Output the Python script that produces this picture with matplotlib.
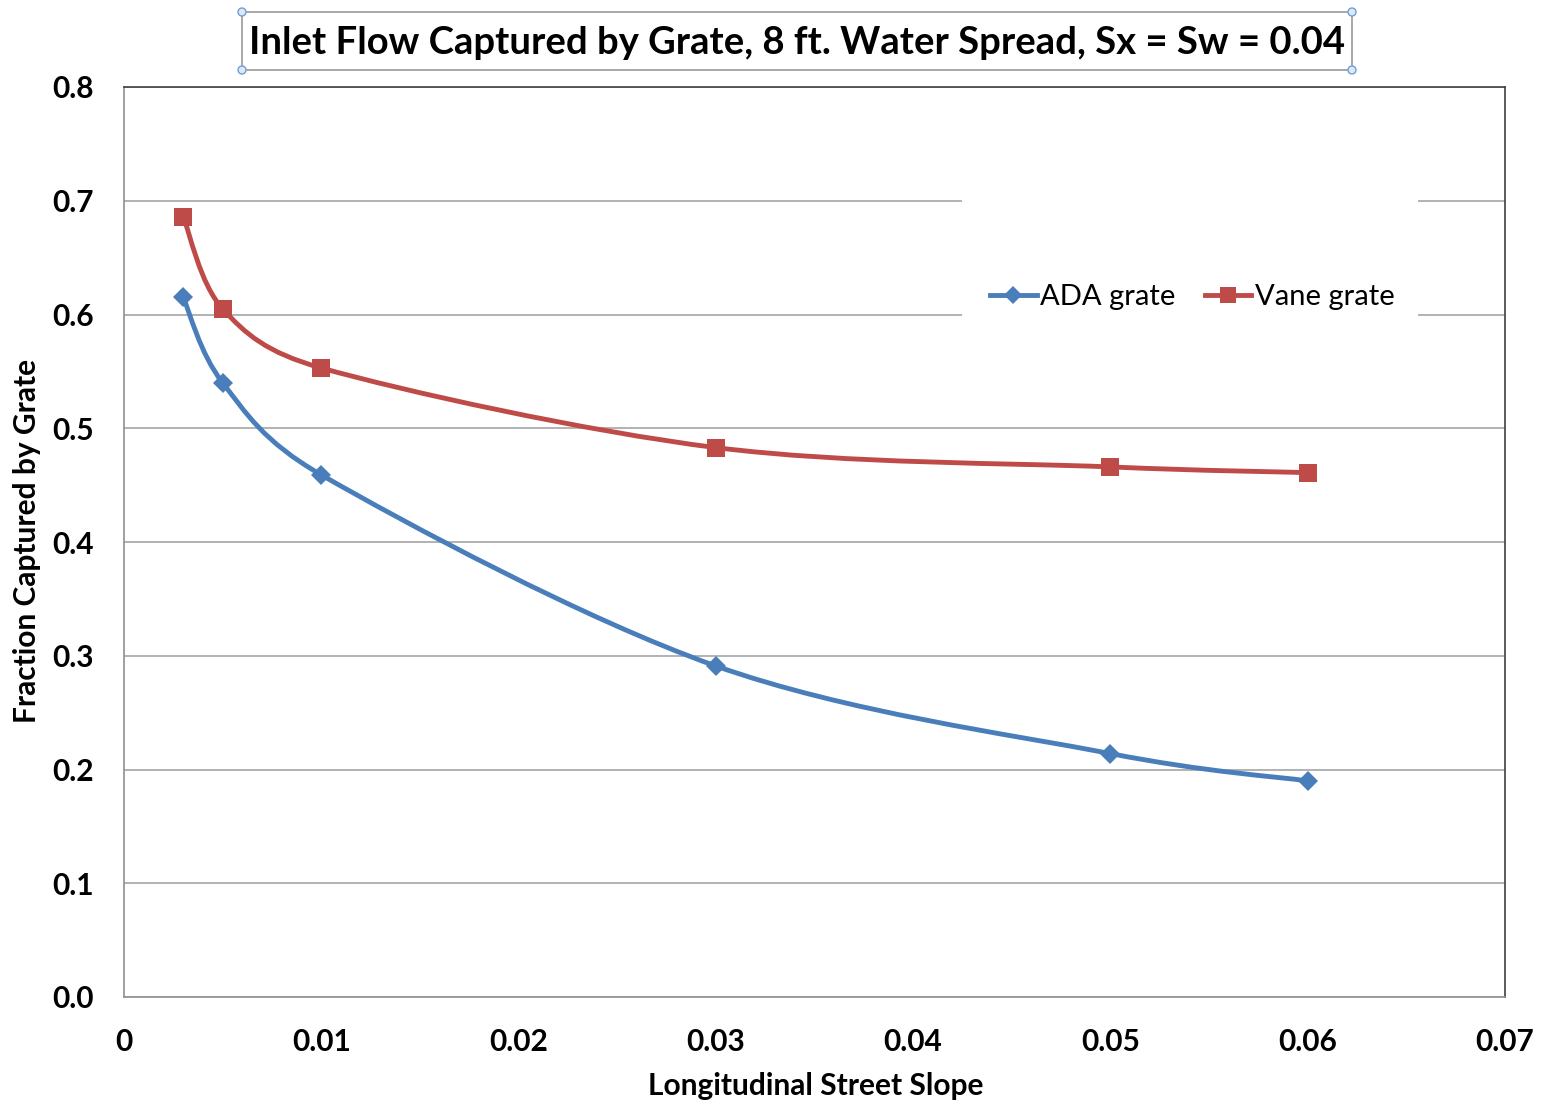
import matplotlib
matplotlib.use("Agg")
import matplotlib.pyplot as plt
from matplotlib.path import Path
from matplotlib.patches import PathPatch, Rectangle, Circle
from matplotlib.lines import Line2D
import numpy as np

# ---- data ----
slopes = [0.003, 0.005, 0.01, 0.03, 0.05, 0.06]
ada_grate = [0.615, 0.540, 0.459, 0.291, 0.214, 0.190]
vane_grate = [0.686, 0.605, 0.553, 0.483, 0.466, 0.461]
series_names = ["ADA grate", "Vane grate"]
x_ticks = [0, 0.01, 0.02, 0.03, 0.04, 0.05, 0.06, 0.07]
x_tick_labels = ["0", "0.01", "0.02", "0.03", "0.04", "0.05", "0.06", "0.07"]
y_ticks = [0.0, 0.1, 0.2, 0.3, 0.4, 0.5, 0.6, 0.7, 0.8]
y_tick_labels = ["0.0", "0.1", "0.2", "0.3", "0.4", "0.5", "0.6", "0.7", "0.8"]
title = "Inlet Flow Captured by Grate, 8 ft. Water Spread, Sx = Sw = 0.04"
x_label = "Longitudinal Street Slope"
y_label = "Fraction Captured by Grate"

BLUE = "#4a7ebb"
RED = "#be4b48"
FONT = ["Lato", "DejaVu Sans"]
plt.rcParams["font.family"] = FONT

W, H = 1547, 1101
fig = plt.figure(figsize=(W / 100, H / 100), dpi=100)
ax = fig.add_axes([124 / W, 1 - 997 / H, (1505 - 124) / W, (997 - 87) / H])
ax.set_xlim(0, 0.07)
ax.set_ylim(0, 0.8)


def smooth_path(xs, ys):
    """Excel-style smoothed line: cubic Bezier segments computed in display space,
    with control-point offsets capped at half the segment length."""
    P = ax.transData.transform(np.column_stack([xs, ys]).astype(float))
    n = len(P)
    verts = [P[0]]
    codes = [Path.MOVETO]
    for i in range(n - 1):
        p0 = P[i - 1] if i > 0 else P[i]
        p1 = P[i]
        p2 = P[i + 1]
        p3 = P[i + 2] if i + 2 < n else P[i + 1]
        d12 = np.hypot(*(p2 - p1))
        d02 = np.hypot(*(p2 - p0))
        d13 = np.hypot(*(p3 - p1))
        f0 = 1 / 6.0
        f1 = 1 / 6.0
        if d02 / 6.0 > d12 / 2.0 and d02 > 0:
            f0 = d12 / (2.0 * d02)
        if d13 / 6.0 > d12 / 2.0 and d13 > 0:
            f1 = d12 / (2.0 * d13)
        c1 = p1 + (p2 - p0) * f0
        c2 = p2 - (p3 - p1) * f1
        verts += [c1, c2, p2]
        codes += [Path.CURVE4] * 3
    verts = ax.transData.inverted().transform(np.array(verts))
    return Path(verts, codes)


for ys, color, marker, ms in [(ada_grate, BLUE, "D", 10.5), (vane_grate, RED, "s", 12.5)]:
    patch = PathPatch(smooth_path(slopes, ys), facecolor="none", edgecolor=color,
                      lw=3.5, zorder=3, capstyle="round", joinstyle="round")
    ax.add_patch(patch)
    ax.plot(slopes, ys, linestyle="none", marker=marker, color=color,
            markersize=ms, markeredgewidth=0, zorder=4)

ax.set_xticks(x_ticks)
ax.set_xticklabels(x_tick_labels)
ax.set_yticks(y_ticks)
ax.set_yticklabels(y_tick_labels)
ax.tick_params(length=0, labelsize=21.5)
for lab in ax.get_xticklabels() + ax.get_yticklabels():
    lab.set_fontweight("bold")
ax.tick_params(axis="y", pad=22)
ax.tick_params(axis="x", pad=22)

ax.grid(axis="y", color="#a6a6a6", lw=1.2, zorder=1)
ax.set_axisbelow(True)
for s in ["top", "right"]:
    ax.spines[s].set_color("#404040")
    ax.spines[s].set_linewidth(1.2)
for s in ["left", "bottom"]:
    ax.spines[s].set_color("#909090")
    ax.spines[s].set_linewidth(1.2)

# legend background (covers gridlines like Excel's legend box)
ax.add_patch(Rectangle(((962 - 124) / 1381, (997 - 330) / 910),
                       (1418 - 962) / 1381, (330 - 185) / 910,
                       transform=ax.transAxes, facecolor="white",
                       edgecolor="none", zorder=2))
handles = [Line2D([], [], color=BLUE, lw=3.5, marker="D", markersize=9.5, markeredgewidth=0),
           Line2D([], [], color=RED, lw=3.5, marker="s", markersize=11.5, markeredgewidth=0)]
leg = ax.legend(handles, series_names, loc="center left",
                bbox_to_anchor=((990 - 124) / 1381, (997 - 297) / 910),
                frameon=False, ncol=2, fontsize=21, handlelength=1.6,
                handletextpad=0.12, columnspacing=1.0, borderpad=0,
                borderaxespad=0)
leg.set_zorder(5)

fig.text(816 / W, 1 - 1086 / H, x_label, ha="center", va="center",
         fontsize=21.5, fontweight="bold")
fig.text(27 / W, 1 - 541 / H, y_label, ha="center", va="center",
         rotation=90, fontsize=21.5, fontweight="bold")

# title with selection box
fig.text(797 / W, 1 - 43 / H, title, ha="center", va="center",
         fontsize=27.5, fontweight="bold")
bx0, bx1, by0, by1 = 242 / W, 1352 / W, 1 - 70 / H, 1 - 12 / H
fig.patches.append(Rectangle((bx0, by0), bx1 - bx0, by1 - by0,
                             transform=fig.transFigure, facecolor="none",
                             edgecolor="#9a9a9a", lw=1.2))
for hx in [bx0, bx1]:
    for hy in [by0, by1]:
        fig.patches.append(Circle((hx * W, hy * H), 4, transform=None,
                                  facecolor="#dde8f5", edgecolor="#6f9fd8", lw=1))
fig.savefig("out.png", dpi=100)
